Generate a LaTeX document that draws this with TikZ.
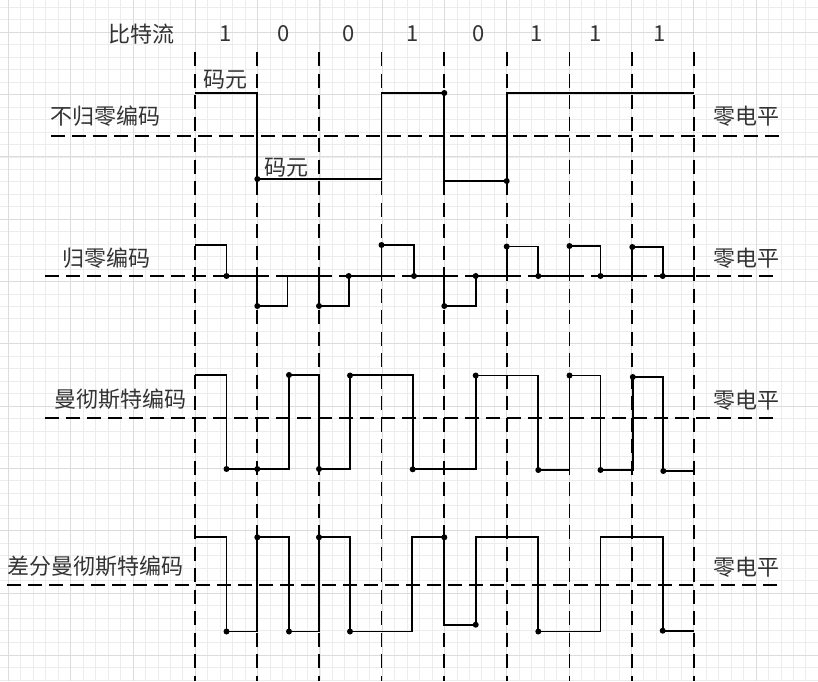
\documentclass[tikz,border=0pt]{standalone}
\usepackage{fontspec}
\newfontfamily\cjkfont{Noto Sans CJK SC}
\definecolor{txtgray}{RGB}{51,51,51}
\definecolor{gridminor}{RGB}{236,236,236}
\definecolor{gridmajor}{RGB}{220,220,220}
\begin{document}
\begin{tikzpicture}[x=1pt,y=-1pt,
  wave/.style={line width=1.9pt, line join=miter, line cap=butt},
  zline/.style={line width=1.8pt, dash pattern=on 13.5pt off 7.5pt},
  bitline/.style={line width=1.8pt, dash pattern=on 14pt off 7.5pt},
  lbl/.style={font=\cjkfont\fontsize{22}{26}\selectfont, text=txtgray, inner sep=0pt},
  gmin/.style={draw=gridminor, line width=0.8pt},
  gmaj/.style={draw=gridmajor, line width=0.9pt}
]
\useasboundingbox (0,0) rectangle (818,681);
\fill[white] (0,0) rectangle (818,681);
% background grid
\foreach \i in {-16,...,50} \draw[gmin] ({195.3+\i*12.46},0) -- ({195.3+\i*12.46},681);
\foreach \j in {-3,...,52} \draw[gmin] (0,{32.3+\j*12.46}) -- (818,{32.3+\j*12.46});
\foreach \i in {-3,...,10} \draw[gmaj] ({195.3+\i*62.3},0) -- ({195.3+\i*62.3},681);
\foreach \j in {0,...,10} \draw[gmaj] (0,{32.3+\j*62.3}) -- (818,{32.3+\j*62.3});

% vertical bit boundaries
\foreach \x in {195.3,257.3,319,381.5,444.3,506.7,569.5,632.3,693.7}
  \draw[bitline] (\x,52) -- (\x,681);

% zero-level lines
\draw[zline] (51,136) -- (780,136);
\draw[zline] (45,276) -- (776,276);
\draw[zline] (45,418) -- (776,418);
\draw[zline] (7,585) -- (781,585);

% texts
\node[lbl] (title) at (141.5,34) {比特流};
\node[lbl] (b1) at (226,34) {1};
\node[lbl] (b2) at (284,34) {0};
\node[lbl] (b3) at (349,34) {0};
\node[lbl] (b4) at (413,34) {1};
\node[lbl] (b5) at (479,34) {0};
\node[lbl] (b6) at (537,34) {1};
\node[lbl] (b7) at (596,34) {1};
\node[lbl] (b8) at (660,34) {1};

\node[lbl] (sym1) at (225,80) {码元};
\node[lbl] (sym2) at (286.5,167.5) {码元};

\node[lbl] (nrz) at (105.5,116) {不归零编码};
\node[lbl] (rz) at (106,258) {归零编码};
\node[lbl] (man) at (120,399) {曼彻斯特编码};
\node[lbl] (dman) at (95,566.5) {差分曼彻斯特编码};

\node[lbl] (z1) at (746,116) {零电平};
\node[lbl] (z2) at (746,258) {零电平};
\node[lbl] (z3) at (746,400) {零电平};
\node[lbl] (z4) at (746,567) {零电平};

% NRZ
\draw[wave] (195.3,93) -- (257.3,93) -- (257.3,179) -- (381.5,179) -- (381.5,93)
  -- (444.3,93) -- (444.3,181) -- (506.7,181) -- (506.7,93) -- (693.7,93);
\foreach \p in {(257.3,179),(444.3,93),(506.7,181)} \fill \p circle (3pt);

% RZ
\draw[wave] (195.3,245) -- (226.5,245) -- (226.5,276) -- (257.3,276) -- (257.3,306)
  -- (287.5,306) -- (287.5,276) -- (319,276) -- (319,306) -- (348.7,306) -- (348.7,276)
  -- (381.5,276) -- (381.5,245) -- (414,245) -- (414,276) -- (444.3,276) -- (444.3,306)
  -- (475.7,306) -- (475.7,276) -- (506.7,276) -- (506.7,246.5) -- (538.3,246.5) -- (538.3,276)
  -- (569.5,276) -- (569.5,246) -- (600.5,246) -- (600.5,276) -- (632.3,276) -- (632.3,247)
  -- (662.7,247) -- (662.7,276) -- (693.7,276);
\foreach \p in {(226.5,276),(257.3,306),(319,306),(348.7,276),(381.5,245),(414,276),
  (444.3,306),(475.7,276),(506.7,246.5),(538.3,276),(569.5,246),(600.5,276),(632.3,247),(662.7,276)}
  \fill \p circle (3pt);

% Manchester
\draw[wave] (195.3,375) -- (226.5,375) -- (226.5,469) -- (289,469) -- (289,375)
  -- (319,375) -- (319,469) -- (350,469) -- (350,375) -- (412.7,375) -- (412.7,469)
  -- (475.7,469) -- (475.7,375.5) -- (538.3,375.5) -- (538.3,470) -- (569.5,470)
  -- (569.5,375.5) -- (600.5,375.5) -- (600.5,470) -- (632.8,470) -- (632.8,377)
  -- (663.3,377) -- (663.3,471) -- (693.7,471);
\foreach \p in {(226.5,469),(257.3,469),(289,375),(319,469),(350,375.5),(412.7,469.3),
  (475.7,375.5),(538.3,470),(569.5,375.5),(600.5,470),(632.8,377),(663.3,471)}
  \fill \p circle (3pt);

% Differential Manchester
\draw[wave] (195.3,537.3) -- (226.5,537.3) -- (226.5,631.5) -- (257.3,631.5) -- (257.3,537.3)
  -- (289,537.3) -- (289,631.5) -- (319,631.5) -- (319,537.3) -- (350,537.3) -- (350,631.5)
  -- (412.3,631.5) -- (412.3,537.3) -- (444.3,537.3) -- (444.3,624.7) -- (475.7,624.7)
  -- (475.7,537.3) -- (538.3,537.3) -- (538.3,631.5) -- (600.5,631.5) -- (600.5,537.3)
  -- (662.7,537.3) -- (662.7,630.7) -- (693.7,630.7);
\foreach \p in {(226.5,631.5),(257.3,537.3),(289,631.5),(319,537.3),(350,631.5),
  (444.3,537.3),(475.7,624.7),(538.3,631.5),(662.7,630.7)}
  \fill \p circle (3pt);
\end{tikzpicture}
\end{document}
